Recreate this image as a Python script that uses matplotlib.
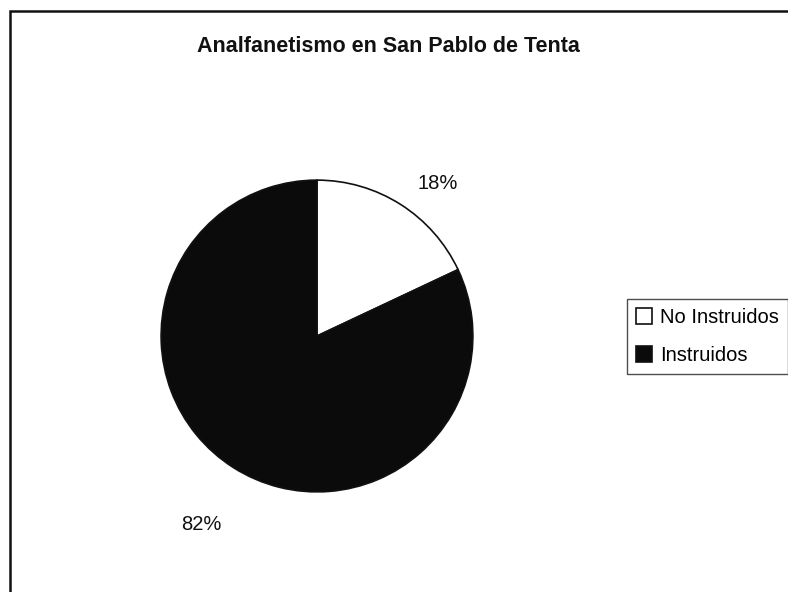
import numpy as np
import matplotlib
matplotlib.use('Agg')
import matplotlib.pyplot as plt
from matplotlib.patches import Rectangle

plt.rcParams['font.family'] = ['Liberation Sans', 'DejaVu Sans']

title = 'Analfanetismo en San Pablo de Tenta'
categories = ['No Instruidos', 'Instruidos']
values = [18, 82]
colors = ['#ffffff', '#0b0b0b']

# label placement (distance in radii, angle tweak in degrees)
label_dist = [1.25, 1.42]
label_shift = [-6, 1]

fig = plt.figure(figsize=(7.88, 5.92), dpi=100)

# chart frame (only top/left edges fall inside the picture)
fig.patches.append(Rectangle((10 / 788, -0.1), 1.2, 1.1 - 11 / 592,
                             transform=fig.transFigure, fill=False,
                             edgecolor='#111111', linewidth=1.8))

ax = fig.add_axes([158 / 788, 97 / 592, 318 / 788, 318 / 592])
wedges, _ = ax.pie(values, colors=colors, startangle=90, counterclock=False,
                   radius=1.0, wedgeprops=dict(edgecolor='#111111', linewidth=1.2))
ax.set_xlim(-1.02, 1.02)
ax.set_ylim(-1.02, 1.02)
ax.set_aspect('equal')
ax.axis('off')

for w, v, d, s in zip(wedges, values, label_dist, label_shift):
    ang = np.deg2rad((w.theta1 + w.theta2) / 2 + s)
    ax.text(d * np.cos(ang), d * np.sin(ang), f'{v}%', ha='center', va='center',
            fontsize=14.5, color='#111111', clip_on=False)

fig.text(388 / 788, 1 - 47 / 592, title, ha='center', va='center',
         fontsize=15.5, fontweight='bold', color='#111111')

leg = fig.legend(wedges, categories, loc='center left',
                 bbox_to_anchor=(627 / 788, 1 - 336.5 / 592),
                 fontsize=14.5, frameon=True, fancybox=False, handlelength=0.8,
                 handleheight=0.8, handletextpad=0.4, labelspacing=0.95,
                 borderpad=0.45, borderaxespad=0)
leg.get_frame().set_edgecolor('#222222')
leg.get_frame().set_linewidth(1.0)

fig.savefig('out.png', dpi=100)
